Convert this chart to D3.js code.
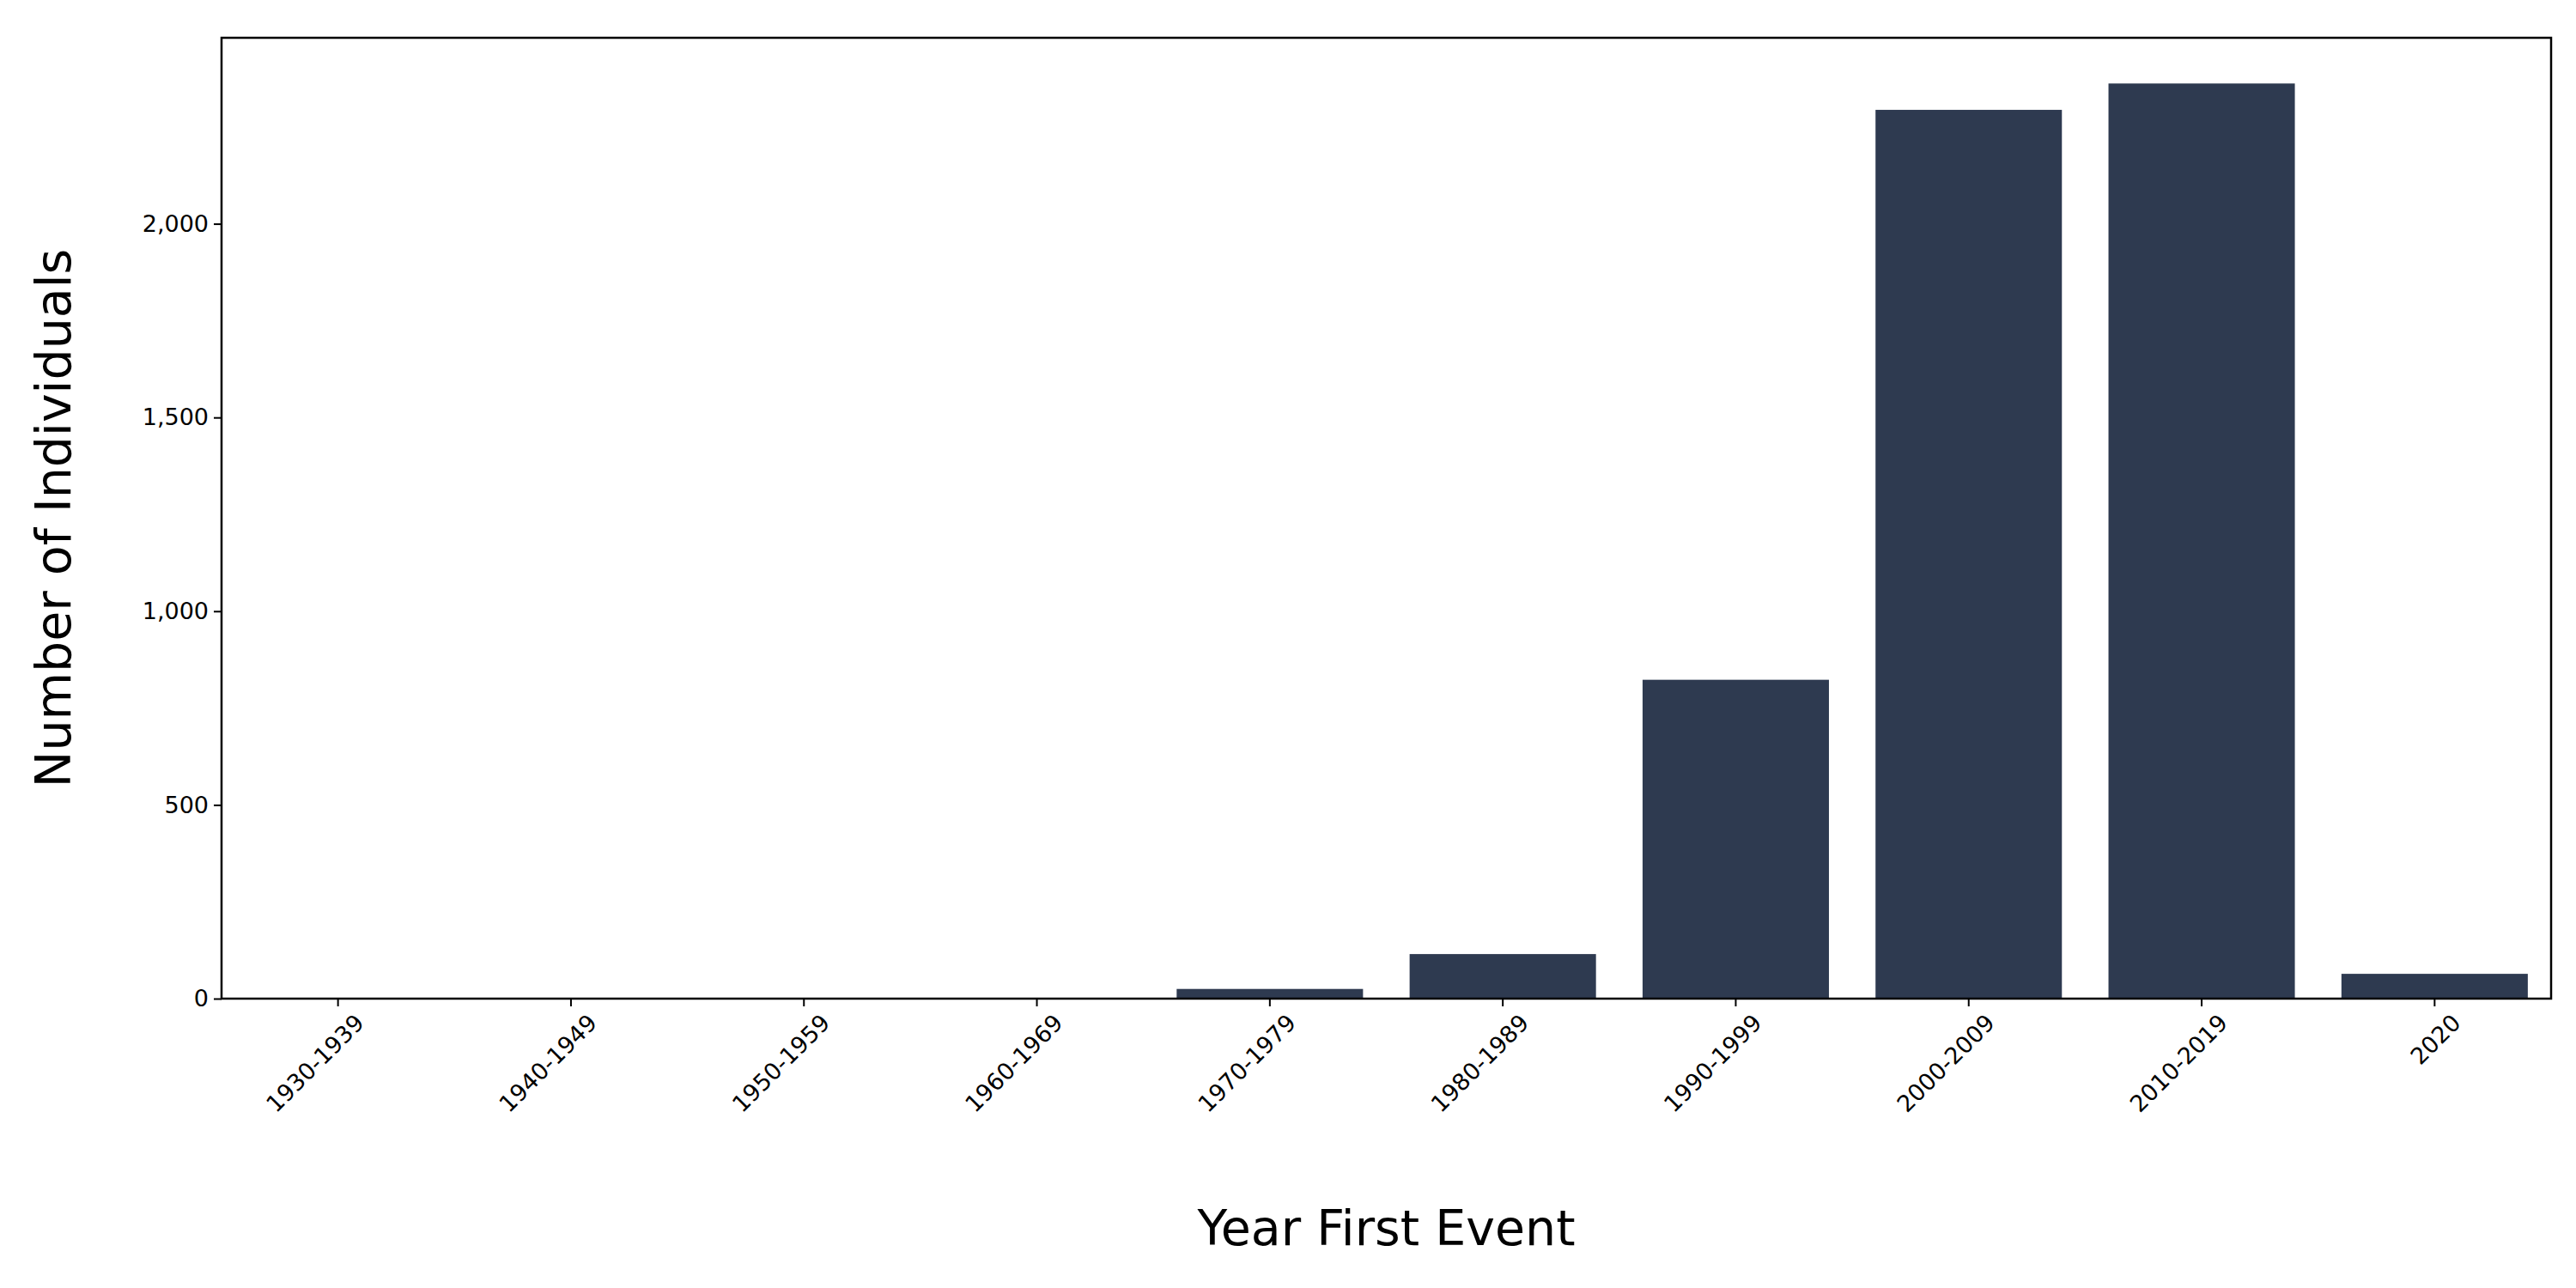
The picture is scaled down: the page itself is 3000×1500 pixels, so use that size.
<!DOCTYPE html>
<html>
<head>
<meta charset="utf-8">
<script src="https://cdn.jsdelivr.net/npm/d3@7"></script>
<style>
body { margin: 0; background: #fff; }
text { font-family: "DejaVu Sans", sans-serif; }
</style>
</head>
<body>
<svg id="chart" width="3000" height="1500"></svg>
<script>
var categories = ["1930-1939", "1940-1949", "1950-1959", "1960-1969", "1970-1979",
	"1980-1989", "1990-1999", "2000-2009", "2010-2019", "2020"];
var counts = [0, 0, 0, 0, 25, 115, 823, 2294, 2362, 64];
var yTicks = [0, 500, 1000, 1500, 2000];

var margin = {left: 258, right: 29, top: 44, bottom: 337};
var width = 3000 - margin.left - margin.right,
	height = 1500 - margin.top - margin.bottom;

var svg = d3.select("#chart");
var g = svg.append("g").attr("transform", "translate(" + margin.left + "," + margin.top + ")");

var x = d3.scaleBand().domain(categories).range([0, width]).paddingInner(0.2).paddingOuter(0.1);
var y = d3.scaleLinear().domain([0, 2480]).range([height, 0]);

g.selectAll("rect.bar")
	.data(counts)
	.enter().append("rect")
	.attr("class", "bar")
	.attr("x", function(d, i) { return x(categories[i]); })
	.attr("y", function(d) { return y(d); })
	.attr("width", x.bandwidth())
	.attr("height", function(d) { return height - y(d); })
	.attr("fill", "#2e3a50");

var xAxis = g.append("g")
	.attr("transform", "translate(0," + height + ")")
	.call(d3.axisBottom(x).tickSize(9).tickPadding(6).tickSizeOuter(0));
xAxis.selectAll("text")
	.style("font-size", "27px")
	.attr("text-anchor", "end")
	.attr("transform", "translate(8,6) rotate(-45)")
	.attr("dy", "0.7em");

var yAxis = g.append("g")
	.call(d3.axisLeft(y).tickValues(yTicks).tickSize(9).tickPadding(6).tickSizeOuter(0));
yAxis.selectAll("text").style("font-size", "27px");

g.selectAll(".domain").remove();
g.selectAll(".tick line").attr("stroke-width", 2);

g.append("rect")
	.attr("width", width).attr("height", height)
	.attr("fill", "none").attr("stroke", "#000").attr("stroke-width", 2.5);

svg.append("text")
	.attr("x", margin.left + width / 2)
	.attr("y", 1450)
	.attr("text-anchor", "middle")
	.style("font-size", "57px")
	.text("Year First Event");

svg.append("text")
	.attr("transform", "translate(82," + (margin.top + height / 2) + ") rotate(-90)")
	.attr("text-anchor", "middle")
	.style("font-size", "57px")
	.text("Number of Individuals");
</script>
</body>
</html>
